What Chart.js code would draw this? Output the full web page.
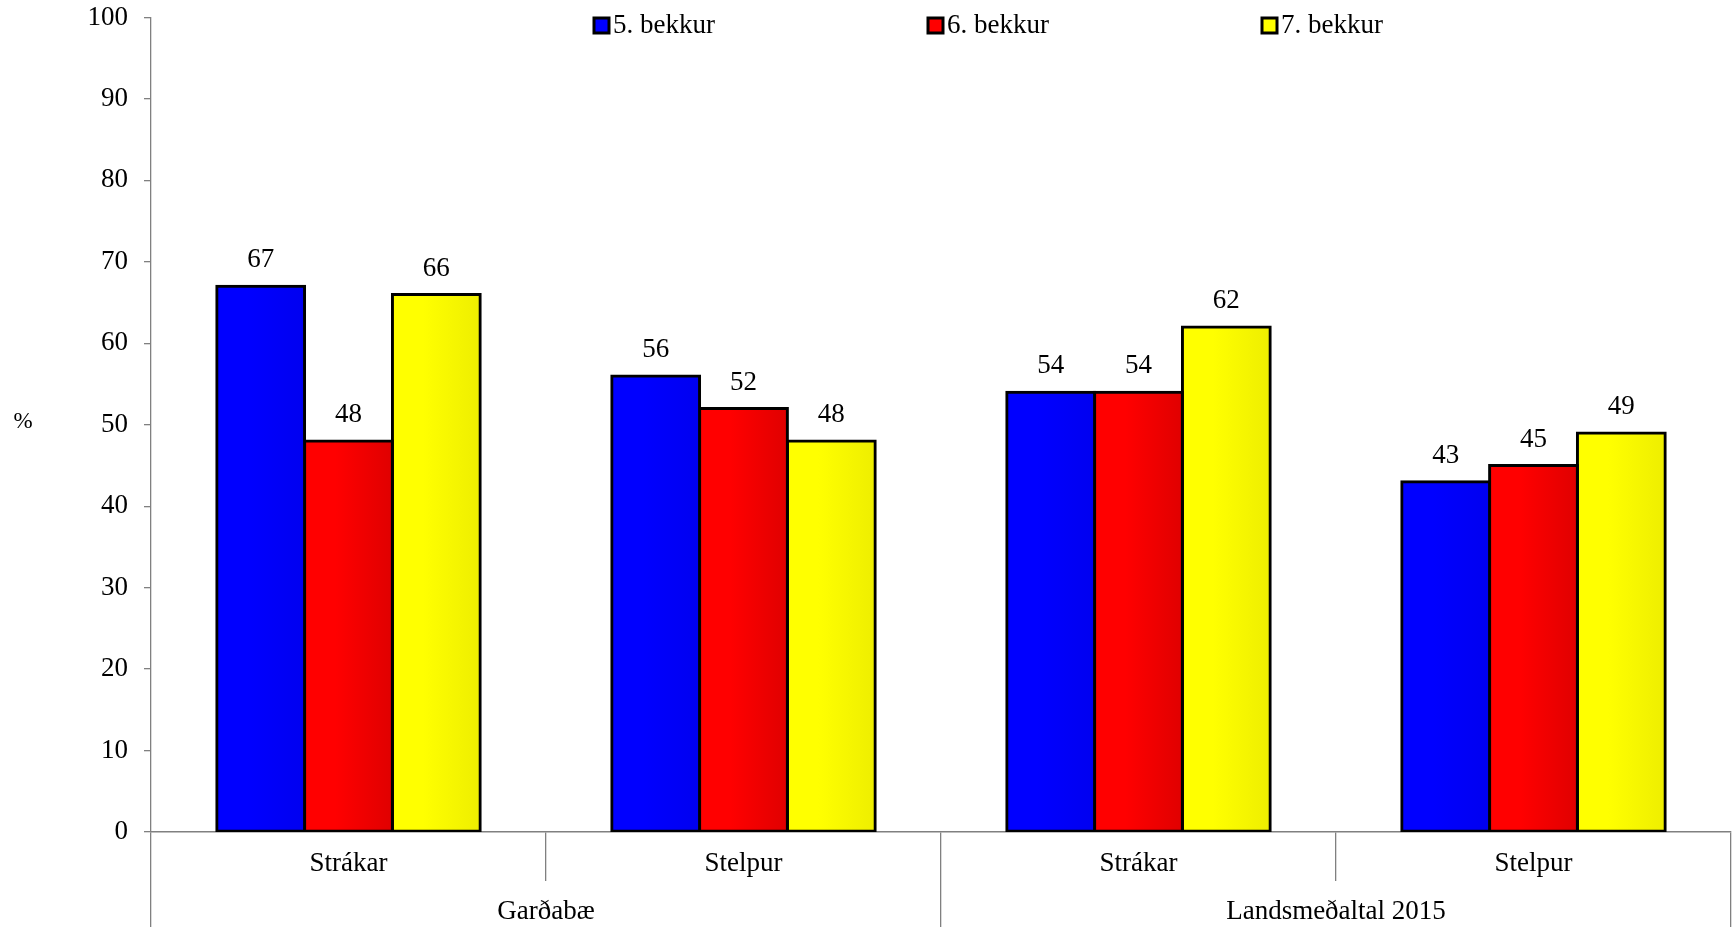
<!DOCTYPE html>
<html lang="is">
<head>
<meta charset="utf-8">
<title>bekkur</title>
<script src="https://cdn.jsdelivr.net/npm/chart.js@4/dist/chart.umd.min.js"></script>
<style>
  html, body { margin: 0; padding: 0; background: #fff; }
  #wrap { width: 1733px; height: 927px; }
</style>
</head>
<body>
<div id="wrap"><canvas id="chart" width="1733" height="927"></canvas></div>
<script>
// Données
const subLabels = ['Strákar', 'Stelpur', 'Strákar', 'Stelpur'];
const groupLabels = ['Garðabæ', 'Landsmeðaltal 2015'];
const seriesNames = ['5. bekkur', '6. bekkur', '7. bekkur'];
const bekkur5 = [67, 56, 54, 43];
const bekkur6 = [48, 52, 54, 45];
const bekkur7 = [66, 48, 62, 49];
const yTicks = [0, 10, 20, 30, 40, 50, 60, 70, 80, 90, 100];

// Couleurs (gauche -> droite, léger dégradé comme l'original)
const barColors = [['#0000ff', '#0000f0'], ['#ff0000', '#e00000'], ['#ffff00', '#eeee00']];

const FONT = 'Liberation Serif';

document.addEventListener('DOMContentLoaded', () => {
    const ctx = document.getElementById('chart');

    // Dégradé horizontal pour chaque barre
    const gradientPlugin = {
        id: 'gradient',
        beforeDatasetsDraw(chart) {
            const c = chart.ctx;
            chart.data.datasets.forEach((ds, i) => {
                const meta = chart.getDatasetMeta(i);
                meta.data.forEach(el => {
                    const left = el.x - el.width / 2;
                    const right = el.x + el.width / 2;
                    const g = c.createLinearGradient(left, 0, right, 0);
                    g.addColorStop(0, barColors[i][0]);
                    g.addColorStop(0.35, barColors[i][0]);
                    g.addColorStop(1, barColors[i][1]);
                    el.options = Object.assign({}, el.options, { backgroundColor: g });
                });
            });
        }
    };

    // Valeurs au-dessus des barres
    const valuePlugin = {
        id: 'values',
        afterDatasetsDraw(chart) {
            const c = chart.ctx;
            c.save();
            c.font = '27px "' + FONT + '"';
            c.fillStyle = '#000';
            c.textAlign = 'center';
            c.textBaseline = 'middle';
            chart.data.datasets.forEach((ds, i) => {
                chart.getDatasetMeta(i).data.forEach((el, j) => {
                    c.fillText(String(ds.data[j]), el.x, el.y - 26);
                });
            });
            c.restore();
        }
    };

    // Légende en haut + le "%" de l'axe Y
    const legendPlugin = {
        id: 'topLegend',
        afterDraw(chart) {
            const c = chart.ctx;
            const xs = [594, 928, 1262];
            c.save();
            c.font = '27px "' + FONT + '"';
            c.textBaseline = 'middle';
            c.textAlign = 'left';
            chart.data.datasets.forEach((ds, i) => {
                c.fillStyle = barColors[i][0];
                c.fillRect(xs[i], 18, 15, 15);
                c.lineWidth = 3;
                c.strokeStyle = '#000';
                c.strokeRect(xs[i], 18, 15, 15);
                c.fillStyle = '#000';
                c.fillText(ds.label, xs[i] + 19, 26);
            });
            c.font = '23px "' + FONT + '"';
            c.textAlign = 'center';
            c.fillText('%', 23, chart.scales.y.getPixelForValue(50) - 3);
            c.restore();
        }
    };

    const datasets = [bekkur5, bekkur6, bekkur7].map((values, i) => ({
        label: seriesNames[i],
        data: values,
        backgroundColor: barColors[i][0],
        borderColor: '#000',
        borderWidth: 3,
        borderSkipped: false,
        inflateAmount: 1.5,
        categoryPercentage: 0.667,
        barPercentage: 1.0
    }));

    new Chart(ctx, {
        type: 'bar',
        data: { labels: subLabels, datasets: datasets },
        options: {
            responsive: false,
            animation: false,
            devicePixelRatio: 1,
            layout: { padding: { top: 17.5, right: 2, bottom: 0, left: 0 } },
            plugins: {
                legend: { display: false },
                tooltip: { enabled: false }
            },
            scales: {
                y: {
                    min: 0,
                    max: 100,
                    afterBuildTicks: scale => { scale.ticks = yTicks.map(v => ({ value: v })); },
                    afterFit: scale => {
                        scale.width = 151;
                        scale.paddingTop = 0;
                        scale.paddingBottom = 0;
                    },
                    grid: { drawOnChartArea: false, tickLength: 7, color: '#808080', lineWidth: 1.3 },
                    border: { color: '#808080', width: 1.3 },
                    ticks: { color: '#000', padding: 16, font: { family: FONT, size: 27 } }
                },
                x: {
                    weight: 1,
                    afterFit: scale => { scale.height = 49; },
                    grid: { offset: true, drawOnChartArea: false, tickLength: 49, color: '#808080', lineWidth: 1.3 },
                    border: { color: '#808080', width: 1.5 },
                    ticks: { color: '#000', padding: -33.2, font: { family: FONT, size: 27 } }
                },
                x2: {
                    type: 'category',
                    position: 'bottom',
                    weight: 2,
                    labels: groupLabels,
                    offset: true,
                    afterFit: scale => { scale.height = 46; },
                    grid: { offset: true, drawOnChartArea: false, tickLength: 46, color: '#808080', lineWidth: 1.3 },
                    border: { display: false },
                    ticks: { color: '#000', padding: -31.2, font: { family: FONT, size: 27 } }
                }
            }
        },
        plugins: [gradientPlugin, valuePlugin, legendPlugin]
    });
});
</script>
</body>
</html>
